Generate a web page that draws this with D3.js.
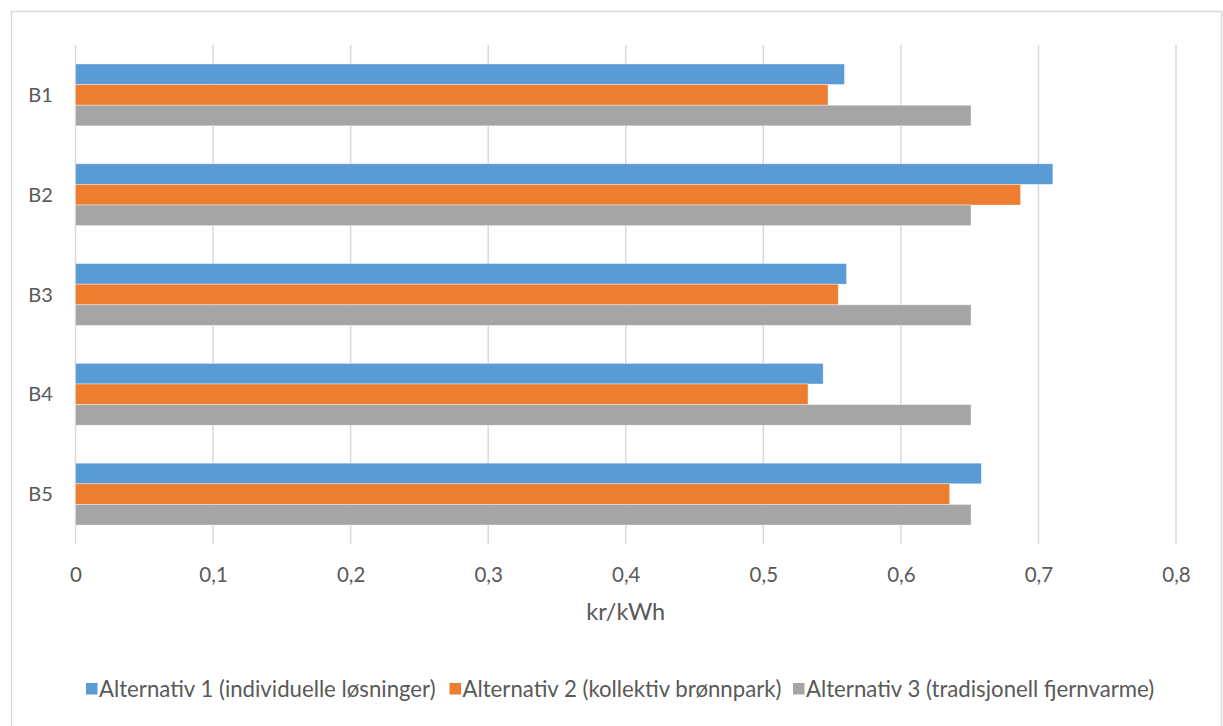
<!DOCTYPE html>
<html>
<head>
<meta charset="utf-8">
<script src="https://cdn.jsdelivr.net/npm/d3@7"></script>
<style>
  html, body { margin: 0; padding: 0; background: #fff; }
  svg { display: block; font-family: Lato, "Open Sans", sans-serif; }
</style>
</head>
<body>
<svg id="chart" width="1223" height="726"></svg>
<script>
// Kostnad per kWh for hvert bygg, tre alternativer
const categories = ["B1", "B2", "B3", "B4", "B5"];
const seriesNames = [
  "Alternativ 1 (individuelle løsninger)",
  "Alternativ 2 (kollektiv brønnpark)",
  "Alternativ 3 (tradisjonell fjernvarme)"
];
const alt1 = [0.559, 0.7105, 0.5605, 0.5435, 0.6585];
const alt2 = [0.547, 0.687, 0.5545, 0.5325, 0.6355];
const alt3 = [0.651, 0.651, 0.651, 0.651, 0.651];
const xTicks = [0, 0.1, 0.2, 0.3, 0.4, 0.5, 0.6, 0.7, 0.8];
const xTickLabels = ["0", "0,1", "0,2", "0,3", "0,4", "0,5", "0,6", "0,7", "0,8"];
const axisTitle = "kr/kWh";
const colors = ["#5B9BD5", "#ED7D31", "#A5A5A5"];

const seriesValues = [alt1, alt2, alt3];
const rows = categories.map((c, i) => ({
  cat: c,
  values: seriesValues.map((s, k) => ({ key: k, value: s[i] }))
}));

const svg = d3.select("#chart");

// chart frame
svg.append("rect")
  .attr("x", 11.5).attr("y", 11.5)
  .attr("width", 1210).attr("height", 740)
  .attr("fill", "#fff")
  .attr("stroke", "#D9D9D9").attr("stroke-width", 1.5);

const plot = { left: 75.5, right: 1176, top: 45, bottom: 544 };

const x = d3.scaleLinear().domain([0, 0.8]).range([plot.left, plot.right]);
const y = d3.scaleBand().domain(categories).range([plot.top, plot.bottom])
  .paddingInner(0.38).paddingOuter(0.19);
const ySub = d3.scaleBand().domain(d3.range(seriesNames.length)).range([0, y.bandwidth()]);

// vertical gridlines
const grid = svg.append("g");
grid.selectAll("line").data(xTicks).join("line")
  .attr("x1", d => x(d)).attr("x2", d => x(d))
  .attr("y1", plot.top).attr("y2", plot.bottom)
  .attr("stroke", "#D9D9D9").attr("stroke-width", 1.5);

// bars
const groups = svg.append("g").selectAll("g").data(rows).join("g")
  .attr("transform", d => `translate(0,${y(d.cat)})`);
groups.selectAll("rect").data(d => d.values).join("rect")
  .attr("x", x(0))
  .attr("y", d => ySub(d.key))
  .attr("width", d => x(d.value) - x(0))
  .attr("height", ySub.bandwidth())
  .attr("fill", d => colors[d.key])
  .attr("stroke", "#fff").attr("stroke-opacity", 0.5).attr("stroke-width", 0.75);

// x axis labels
const xAxis = d3.axisBottom(x).tickValues(xTicks)
  .tickFormat((d, i) => xTickLabels[i]).tickSize(0).tickPadding(0);
const gx = svg.append("g").attr("transform", `translate(0,${plot.bottom})`).call(xAxis);
gx.select(".domain").remove();
gx.selectAll("text")
  .attr("dy", null).attr("y", 38)
  .attr("fill", "#595959").attr("font-size", 20.5).attr("font-family", "Lato, sans-serif");

// category labels
const yAxis = d3.axisLeft(y).tickSize(0).tickPadding(0);
const gy = svg.append("g").attr("transform", `translate(40.5,0)`).call(yAxis);
gy.select(".domain").remove();
gy.selectAll("text")
  .attr("text-anchor", "middle").attr("x", 0).attr("dy", "0.35em")
  .attr("fill", "#595959").attr("font-size", 20).attr("font-family", "Lato, sans-serif");

// axis title
svg.append("text")
  .attr("x", (plot.left + plot.right) / 2).attr("y", 620)
  .attr("text-anchor", "middle")
  .attr("fill", "#595959").attr("font-size", 23.5)
  .text(axisTitle);

// legend
const legendX = [86, 449.5, 793];
const legend = svg.append("g").selectAll("g").data(seriesNames).join("g")
  .attr("transform", (d, i) => `translate(${legendX[i]},683)`);
legend.append("rect")
  .attr("width", 11.5).attr("height", 11.5)
  .attr("fill", (d, i) => colors[i]);
legend.append("text")
  .attr("x", 13).attr("y", 6).attr("dy", "0.35em")
  .attr("fill", "#595959").attr("font-size", 22.2)
  .text(d => d);
</script>
</body>
</html>
